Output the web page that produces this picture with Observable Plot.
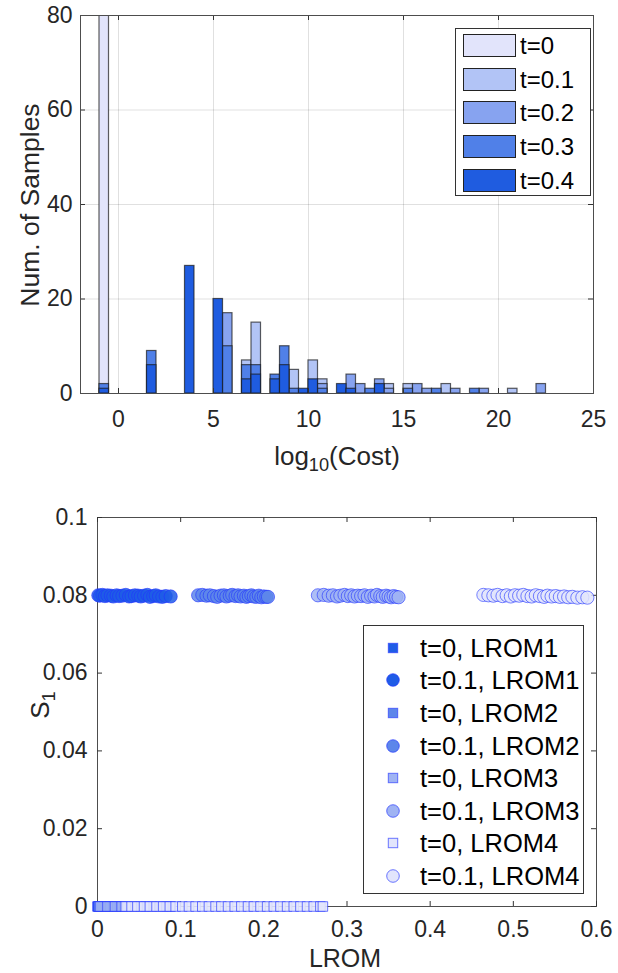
<!DOCTYPE html>
<html><head><meta charset="utf-8">
<script src="https://cdn.jsdelivr.net/npm/d3@7"></script>
<script src="https://cdn.jsdelivr.net/npm/@observablehq/plot@0.6"></script>
<style>
body{margin:0;background:#fff;font-family:"Liberation Sans",Arial,sans-serif;color:#262626;}
#wrap{position:relative;width:618px;height:973px;overflow:hidden;background:#fff}
.abs{position:absolute;white-space:nowrap}
.plotbox{position:absolute;left:0}
</style></head><body><div id="wrap"></div>
<script>
// ---------- Top histogram data ----------
const series = ["t=0", "t=0.1", "t=0.2", "t=0.3", "t=0.4"];
const seriesColors = ["#e2e4fb", "#b2c4f6", "#87a3f0", "#5080e8", "#1f5ce0"];
const binWidth = 0.5;
const binLeft = [-1, 1.5, 3.5, 5, 5.5, 6.5, 7, 8, 8.5, 9, 9.5, 10, 10.5, 11.5, 12, 12.5, 13, 13.5, 14, 15, 15.5, 16, 16.5, 17, 17.5, 18.5, 19, 19.5, 20.5, 22];
const count_t0  = [100,0,0,0,0,0,0,0,0,0,0,0,0,0,0,0,0,0,0,0,0,0,0,0,0,0,0,0,0,0];
const count_t01 = [0,0,0,0,0,7,15,0,0,5,0,7,3,0,0,0,0,0,2,2,0,0,0,2,0,0,0,0,1,0];
const count_t02 = [0,0,0,0,17,0,0,0,0,0,0,0,2,0,4,2,0,3,1,0,2,1,0,0,1,0,1,0,0,2];
const count_t03 = [2,9,0,0,10,6,6,4,10,1,0,0,1,0,0,0,1,0,0,1,0,0,1,0,0,1,0,0,0,0];
const count_t04 = [1,6,27,20,0,3,4,3,6,0,1,3,0,2,1,0,0,2,0,0,0,0,0,0,0,0,0,0,0,0];
const histXTicks = [0, 5, 10, 15, 20, 25];
const histYTicks = [0, 20, 40, 60, 80];

// ---------- Bottom scatter data ----------
const lromNames = ["LROM1", "LROM2", "LROM3", "LROM4"];
const lromColors = ["#1f5ce6", "#5d86ea", "#9fb3f3", "#e2e5fc"];
const s1_t0 = 0;
const lrom1_t0_x = [0.000, 0.002, 0.004, 0.006, 0.008, 0.010, 0.013];
const lrom2_t0_x = [0.001, 0.005, 0.011, 0.015, 0.019, 0.023, 0.027, 0.031];
const lrom3_t0_x = [0.003, 0.012, 0.021, 0.029, 0.036, 0.044, 0.052, 0.058, 0.066, 0.075, 0.083, 0.088];
const lrom4_t0_x = [0.034, 0.041, 0.048, 0.056, 0.063, 0.071, 0.079, 0.087, 0.094, 0.102, 0.110, 0.118, 0.126, 0.134, 0.142, 0.149, 0.157, 0.165, 0.173, 0.181, 0.188, 0.196, 0.204, 0.212, 0.220, 0.228, 0.236, 0.244, 0.252, 0.260, 0.268, 0.271];
const lrom1_t01_x = [0.001, 0.003, 0.006, 0.009, 0.012, 0.016, 0.019, 0.023, 0.026, 0.030, 0.034, 0.038, 0.041, 0.045, 0.049, 0.052, 0.056, 0.060, 0.063, 0.067, 0.070, 0.074, 0.078, 0.082, 0.088];
const lrom1_t01_y = [0.0800, 0.0799, 0.0801, 0.0798, 0.0800, 0.0799, 0.0797, 0.0800, 0.0798, 0.0799, 0.0801, 0.0797, 0.0798, 0.0800, 0.0799, 0.0797, 0.0799, 0.0801, 0.0796, 0.0798, 0.0800, 0.0797, 0.0796, 0.0798, 0.0797];
const lrom2_t01_x = [0.121, 0.126, 0.131, 0.135, 0.140, 0.144, 0.148, 0.152, 0.155, 0.159, 0.162, 0.166, 0.169, 0.172, 0.176, 0.179, 0.182, 0.185, 0.188, 0.191, 0.194, 0.197, 0.200, 0.203, 0.205];
const lrom2_t01_y = [0.0800, 0.0801, 0.0799, 0.0800, 0.0798, 0.0796, 0.0799, 0.0800, 0.0797, 0.0799, 0.0801, 0.0798, 0.0800, 0.0797, 0.0799, 0.0796, 0.0798, 0.0800, 0.0797, 0.0796, 0.0799, 0.0795, 0.0797, 0.0796, 0.0796];
const lrom3_t01_x = [0.265, 0.272, 0.278, 0.283, 0.288, 0.292, 0.297, 0.301, 0.305, 0.309, 0.313, 0.317, 0.321, 0.325, 0.329, 0.333, 0.336, 0.340, 0.343, 0.347, 0.350, 0.353, 0.356, 0.359, 0.362];
const lrom3_t01_y = [0.0800, 0.0801, 0.0799, 0.0800, 0.0797, 0.0799, 0.0801, 0.0798, 0.0800, 0.0797, 0.0799, 0.0798, 0.0800, 0.0796, 0.0799, 0.0797, 0.0801, 0.0798, 0.0796, 0.0799, 0.0797, 0.0795, 0.0798, 0.0796, 0.0795];
const lrom4_t01_x = [0.464, 0.470, 0.476, 0.481, 0.487, 0.492, 0.497, 0.502, 0.507, 0.512, 0.517, 0.522, 0.527, 0.532, 0.537, 0.541, 0.546, 0.551, 0.556, 0.561, 0.566, 0.571, 0.577, 0.583, 0.589];
const lrom4_t01_y = [0.0801, 0.0800, 0.0799, 0.0801, 0.0798, 0.0800, 0.0797, 0.0800, 0.0799, 0.0801, 0.0798, 0.0797, 0.0800, 0.0798, 0.0796, 0.0799, 0.0797, 0.0798, 0.0796, 0.0797, 0.0795, 0.0796, 0.0794, 0.0795, 0.0794];
const scatXTicks = [0, 0.1, 0.2, 0.3, 0.4, 0.5, 0.6];
const scatXTickLabels = ["0", "0.1", "0.2", "0.3", "0.4", "0.5", "0.6"];
const scatYTicks = [0, 0.02, 0.04, 0.06, 0.08, 0.1];
const scatYTickLabels = ["0", "0.02", "0.04", "0.06", "0.08", "0.1"];

// ---------- build ----------
const FONT = '"Liberation Sans", Arial, sans-serif';
const wrap = document.getElementById("wrap");
const allCounts = [count_t0, count_t01, count_t02, count_t03, count_t04];
const histRows = [];
series.forEach((s, si) => {
  allCounts[si].forEach((c, i) => {
    if (c > 0) histRows.push({series: s, x1: binLeft[i], x2: binLeft[i] + binWidth, count: c});
  });
});

const TOP_H = 480, TOP_ML = 80, TOP_MR = 25, TOP_MT = 15, TOP_MB = 87;
const topInnerH = TOP_H - TOP_MT - TOP_MB, topInnerW = 618 - TOP_ML - TOP_MR;
const topPlot = Plot.plot({
  width: 618, height: TOP_H,
  marginLeft: TOP_ML, marginRight: TOP_MR, marginTop: TOP_MT, marginBottom: TOP_MB,
  style: {fontFamily: FONT, fontSize: "23px", color: "#262626", background: "transparent", overflow: "visible"},
  x: {domain: [-2, 25]},
  y: {domain: [0, 80]},
  color: {domain: series, range: seriesColors},
  marks: [
    Plot.gridX(histXTicks, {stroke: "#000", strokeOpacity: 0.12}),
    Plot.gridY(histYTicks, {stroke: "#000", strokeOpacity: 0.12}),
    Plot.rectY(histRows, {x1: "x1", x2: "x2", y1: 0, y2: "count", fill: "series", stroke: "#1a1a1a", strokeOpacity: 0.7, strokeWidth: 1.2, clip: true}),
    Plot.tickX(histXTicks, {x: d => d, insetTop: topInnerH - 5, stroke: "#333"}),
    Plot.tickX(histXTicks, {x: d => d, insetBottom: topInnerH - 5, stroke: "#333"}),
    Plot.tickY(histYTicks, {y: d => d, insetRight: topInnerW - 5, stroke: "#333"}),
    Plot.tickY(histYTicks, {y: d => d, insetLeft: topInnerW - 5, stroke: "#333"}),
    Plot.axisX(histXTicks, {label: null, tickSize: 0, tickPadding: 17, fontSize: 23}),
    Plot.axisY(histYTicks, {label: null, tickSize: 0, tickPadding: 8, fontSize: 23}),
    Plot.frame({stroke: "#4d4d4d"})
  ]
});
topPlot.classList.add("plotbox");
topPlot.style.top = "0px";
wrap.appendChild(topPlot);

const BOT_TOP = 490, BOT_H = 483, BOT_ML = 97, BOT_MR = 22, BOT_MT = 27, BOT_MB = 67;
const botInnerH = BOT_H - BOT_MT - BOT_MB, botInnerW = 618 - BOT_ML - BOT_MR;
const t0Sets = [lrom1_t0_x, lrom2_t0_x, lrom3_t0_x, lrom4_t0_x];
const t01Sets = [[lrom1_t01_x, lrom1_t01_y], [lrom2_t01_x, lrom2_t01_y], [lrom3_t01_x, lrom3_t01_y], [lrom4_t01_x, lrom4_t01_y]];
const scatterMarks = [];
lromNames.forEach((name, k) => {
  const sq = t0Sets[k].map(x => ({x, y: s1_t0}));
  const ci = t01Sets[k][0].map((x, i) => ({x, y: t01Sets[k][1][i]}));
  scatterMarks.push(Plot.dot(sq, {x: "x", y: "y", symbol: "square", r: 5.4, fill: lromColors[k], fillOpacity: 0.9, stroke: "#2233ff", strokeOpacity: 0.65, strokeWidth: 1}));
  scatterMarks.push(Plot.dot(ci, {x: "x", y: "y", symbol: "circle", r: 6.6, fill: lromColors[k], fillOpacity: 0.85, stroke: "#2233ff", strokeOpacity: 0.6, strokeWidth: 1}));
});
const botPlot = Plot.plot({
  width: 618, height: BOT_H,
  marginLeft: BOT_ML, marginRight: BOT_MR, marginTop: BOT_MT, marginBottom: BOT_MB,
  style: {fontFamily: FONT, fontSize: "23px", color: "#262626", background: "transparent", overflow: "visible"},
  x: {domain: [0, 0.6]},
  y: {domain: [0, 0.1]},
  marks: [
    Plot.frame({stroke: "#4d4d4d"}),
    Plot.tickX(scatXTicks, {x: d => d, insetTop: botInnerH - 5, stroke: "#333"}),
    Plot.tickX(scatXTicks, {x: d => d, insetBottom: botInnerH - 5, stroke: "#333"}),
    Plot.tickY(scatYTicks, {y: d => d, insetRight: botInnerW - 5, stroke: "#333"}),
    Plot.tickY(scatYTicks, {y: d => d, insetLeft: botInnerW - 5, stroke: "#333"}),
    ...scatterMarks,
    Plot.axisX(scatXTicks, {label: null, tickSize: 0, tickPadding: 14, fontSize: 23, tickFormat: (d, i) => scatXTickLabels[i]}),
    Plot.axisY(scatYTicks, {label: null, tickSize: 0, tickPadding: 10, fontSize: 23, tickFormat: (d, i) => scatYTickLabels[i]})
  ]
});
botPlot.classList.add("plotbox");
botPlot.style.top = BOT_TOP + "px";
wrap.appendChild(botPlot);

// ---------- axis titles ----------
function addText(html, css) {
  const d = document.createElement("div");
  d.className = "abs";
  d.innerHTML = html;
  Object.assign(d.style, css);
  wrap.appendChild(d);
  return d;
}
addText('log<sub style="font-size:70%;vertical-align:-0.35em;line-height:0">10</sub>(Cost)', {left: "337px", top: "456px", transform: "translate(-50%,-50%)", fontSize: "26px", color: "#262626"});
addText('Num. of Samples', {left: "30px", top: "205px", transform: "translate(-50%,-50%) rotate(-90deg)", fontSize: "26.5px", color: "#262626"});
addText('LROM', {left: "345px", top: "958px", transform: "translate(-50%,-50%)", fontSize: "25px", color: "#262626"});
addText('S<sub style="font-size:70%;vertical-align:-0.35em;line-height:0">1</sub>', {left: "40px", top: "705px", transform: "translate(-50%,-50%) rotate(-90deg)", fontSize: "26px", color: "#262626"});

// ---------- top legend ----------
const legTop = document.createElement("div");
legTop.className = "abs";
Object.assign(legTop.style, {left: "455px", top: "28px", width: "134px", height: "166px", border: "1px solid #333", background: "#fff"});
wrap.appendChild(legTop);
series.forEach((s, i) => {
  const cy = 17 + i * 33.7;
  const sw = document.createElement("div");
  sw.className = "abs";
  Object.assign(sw.style, {left: "7px", top: (cy - 12) + "px", width: "53px", height: "23px", background: seriesColors[i], border: "1px solid #222", boxSizing: "border-box"});
  legTop.appendChild(sw);
  const tx = document.createElement("div");
  tx.className = "abs";
  tx.textContent = s;
  Object.assign(tx.style, {left: "64px", top: cy + "px", transform: "translateY(-50%)", fontSize: "24px", color: "#000"});
  legTop.appendChild(tx);
});

// ---------- bottom legend ----------
const legBot = document.createElement("div");
legBot.className = "abs";
Object.assign(legBot.style, {left: "363px", top: "625px", width: "219px", height: "267px", border: "1px solid #333", background: "#fff"});
wrap.appendChild(legBot);
const legEntries = [];
lromNames.forEach((n, k) => {
  legEntries.push({label: "t=0, " + n, symbol: "square", color: lromColors[k]});
  legEntries.push({label: "t=0.1, " + n, symbol: "circle", color: lromColors[k]});
});
legEntries.forEach((e, i) => {
  const cy = 21.7 + i * 32.6;
  const ns = "http://www.w3.org/2000/svg";
  const svg = document.createElementNS(ns, "svg");
  svg.setAttribute("width", 20); svg.setAttribute("height", 20);
  svg.style.position = "absolute";
  svg.style.left = (29 - 10) + "px";
  svg.style.top = (cy - 10) + "px";
  let shp;
  if (e.symbol === "square") {
    shp = document.createElementNS(ns, "rect");
    shp.setAttribute("x", 5.3); shp.setAttribute("y", 5.3); shp.setAttribute("width", 9.4); shp.setAttribute("height", 9.4);
  } else {
    shp = document.createElementNS(ns, "circle");
    shp.setAttribute("cx", 10); shp.setAttribute("cy", 10); shp.setAttribute("r", 6.3);
  }
  shp.setAttribute("fill", e.color);
  shp.setAttribute("stroke", "#2233ff");
  shp.setAttribute("stroke-opacity", 0.65);
  svg.appendChild(shp);
  legBot.appendChild(svg);
  const tx = document.createElement("div");
  tx.className = "abs";
  tx.textContent = e.label;
  Object.assign(tx.style, {left: "56px", top: cy + "px", transform: "translateY(-50%)", fontSize: "25.5px", color: "#000"});
  legBot.appendChild(tx);
});
</script></body></html>
